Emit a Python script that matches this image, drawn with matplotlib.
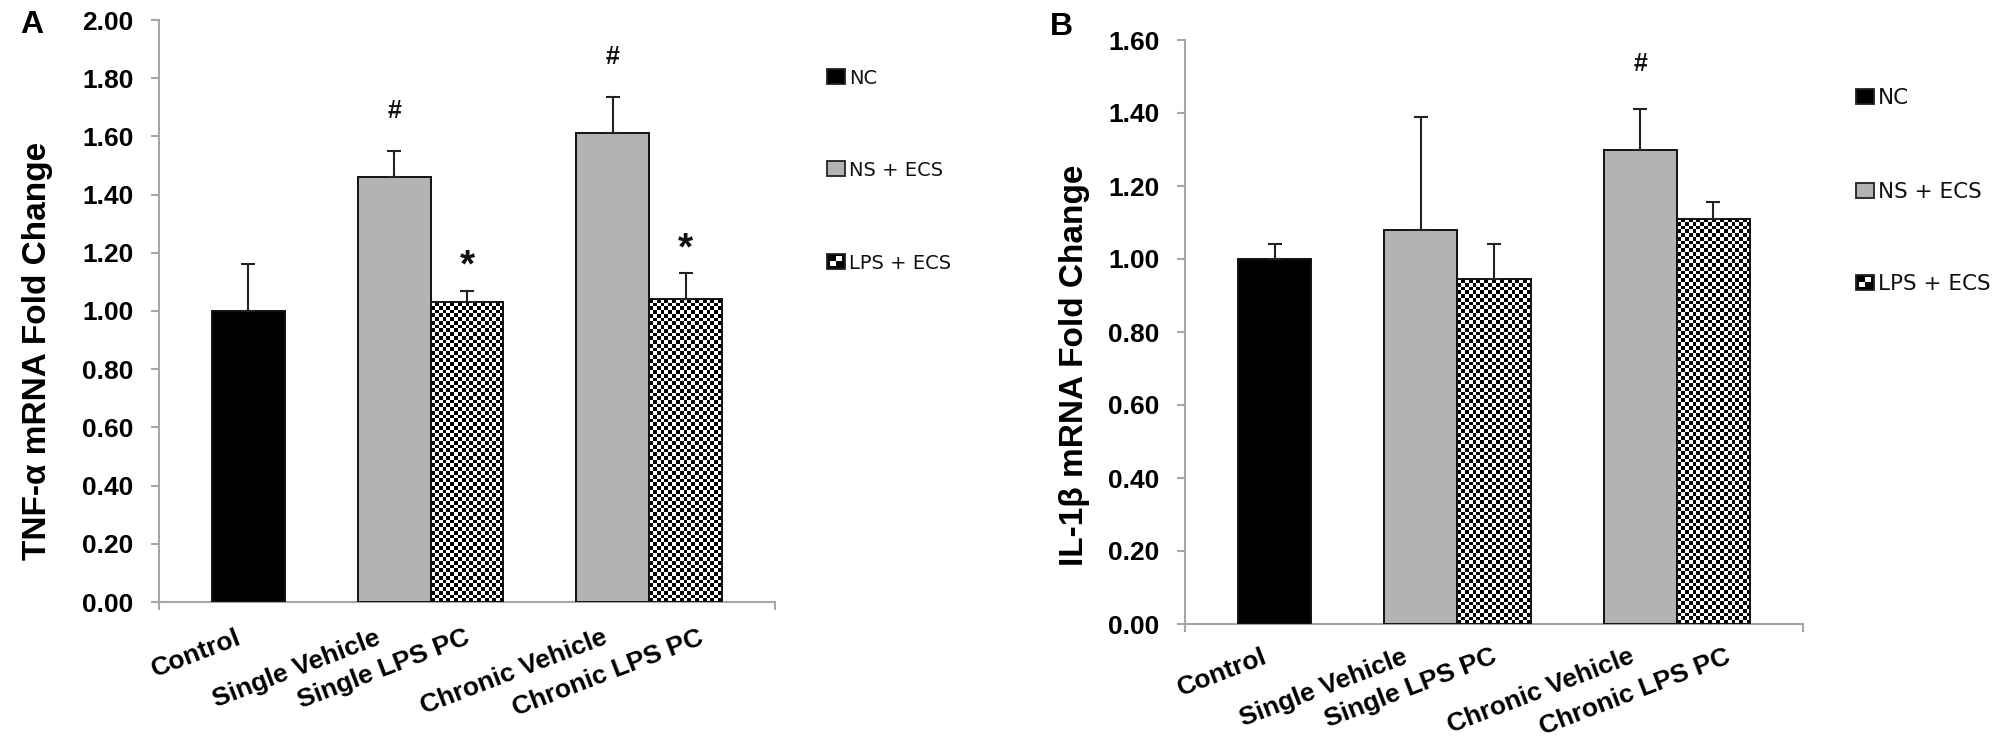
import numpy as np
import matplotlib
matplotlib.use("Agg")
import matplotlib.pyplot as plt
from matplotlib.patches import Rectangle
from matplotlib.ticker import FixedLocator
from matplotlib.transforms import ScaledTranslation

# ---------------- data ----------------
categories = ["Control", "Single Vehicle", "Single LPS PC", "Chronic Vehicle", "Chronic LPS PC"]
bar_series = [0, 1, 2, 1, 2]            # index into legend_labels
legend_labels = ["NC", "NS + ECS", "LPS + ECS"]

tnf_values = [1.00, 1.46, 1.03, 1.61, 1.04]
tnf_errors = [0.16, 0.09, 0.04, 0.125, 0.09]
tnf_marks = ["", "#", "*", "#", "*"]
tnf_yticks = [0.0, 0.2, 0.4, 0.6, 0.8, 1.0, 1.2, 1.4, 1.6, 1.8, 2.0]

il1b_values = [1.00, 1.08, 0.945, 1.30, 1.11]
il1b_errors = [0.04, 0.31, 0.095, 0.11, 0.045]
il1b_marks = ["", "", "", "#", ""]
il1b_yticks = [0.0, 0.2, 0.4, 0.6, 0.8, 1.0, 1.2, 1.4, 1.6]

# ---------------- style ----------------
W, H, DPI = 2000, 754, 100
BOLD = "Liberation Sans"
LEG_FONT = "DejaVu Sans"
GRAY_FILL = "#b3b3b3"
AXIS_GRAY = "#a6a6a6"
bar_pos = [0, 2, 3, 5, 6]
label_dx_px = [-12.5, -19, -3, -11, 12]
mark_style = {"#": (24, 18), "*": (9.9, 28)}   # offset (pt), fontsize

plt.rcParams["font.family"] = [BOLD, "DejaVu Sans"]

fig = plt.figure(figsize=(W / DPI, H / DPI), dpi=DPI)
fig.patch.set_facecolor("white")


def px_axes(left, right, y0, ytop):
    return fig.add_axes([left / W, (H - y0) / H, (right - left) / W, (y0 - ytop) / H])


def draw_checker(ax, bar, cell=3.75):
    x0, w, h = bar.get_x(), bar.get_width(), bar.get_height()
    p0 = ax.transData.transform((x0, 0))
    p1 = ax.transData.transform((x0 + w, h))
    nx = max(1, int(round((p1[0] - p0[0]) / cell)))
    ny = max(1, int(round((p1[1] - p0[1]) / cell)))
    pattern = np.add.outer(np.arange(ny), np.arange(nx)) % 2
    im = ax.imshow(pattern, cmap="gray", vmin=0, vmax=1, extent=(x0, x0 + w, 0, h),
                   aspect="auto", interpolation="nearest", origin="lower", zorder=2)
    im.set_clip_path(bar)


def panel(ax, values, errors, marks, yticks, ylabel, mark_extra, label_pad):
    xlim = (-0.5 - 0.726, 6.5 + 0.726)
    ylim = (yticks[0], yticks[-1])
    ax.set_xlim(xlim)
    ax.set_ylim(ylim)
    fills = ["black", GRAY_FILL, "none"]
    bars = []
    for x, v, s in zip(bar_pos, values, bar_series):
        b = ax.bar(x, v, width=1.0, color=fills[s], edgecolor="#111111",
                   linewidth=1.4, zorder=3)[0]
        bars.append(b)
    for b, s in zip(bars, bar_series):
        if s == 2:
            draw_checker(ax, b)
    ax.errorbar(bar_pos, values, yerr=[np.zeros(len(values)), errors], fmt="none",
                ecolor="#222222", elinewidth=1.5, capsize=4.7, capthick=1.5, zorder=4)
    for x, v, e, m in zip(bar_pos, values, errors, marks):
        if m:
            off, fs = mark_style[m]
            ax.annotate(m, (x, v + e), xytext=(0, off + (mark_extra if m == "#" else 0)),
                        textcoords="offset points", ha="center", va="baseline",
                        fontsize=fs, fontweight="bold", color="#111111")
    ax.set_xlim(xlim)
    ax.set_ylim(ylim)

    for s in ("top", "right"):
        ax.spines[s].set_visible(False)
    for s in ("left", "bottom"):
        ax.spines[s].set_color(AXIS_GRAY)
        ax.spines[s].set_linewidth(1.5)

    ax.set_yticks(yticks)
    ax.set_yticklabels([f"{t:.2f}" for t in yticks])
    ax.tick_params(axis="y", direction="out", length=5.5, width=1.5, color=AXIS_GRAY,
                   pad=13, labelsize=19)
    for lab in ax.get_yticklabels():
        lab.set_fontweight("bold")

    ax.set_xticks(bar_pos)
    ax.set_xticklabels(categories, rotation=21, ha="right", va="top",
                       rotation_mode="anchor", fontsize=19, fontweight="bold")
    ax.tick_params(axis="x", which="major", length=0, pad=label_pad)
    ax.xaxis.set_minor_locator(FixedLocator(list(xlim)))
    ax.tick_params(axis="x", which="minor", direction="out", length=5.8, width=1.5,
                   color=AXIS_GRAY)
    for lab, dx in zip(ax.get_xticklabels(), label_dx_px):
        lab.set_transform(lab.get_transform() + ScaledTranslation(dx / DPI, 0, fig.dpi_scale_trans))

    ax.set_ylabel(ylabel, fontsize=24, fontweight="bold")
    ax.yaxis.label.set_va("center")


def legend(x_sq, y_centers, fs):
    fills = ["black", GRAY_FILL, None]
    sq_w, sq_h = 18, 15
    for lab, yc, f in zip(legend_labels, y_centers, fills):
        x0 = x_sq / W
        y0 = (H - yc - sq_h / 2) / H
        w = sq_w / W
        h = sq_h / H
        if f is not None:
            fig.patches.append(Rectangle((x0, y0), w, h, transform=fig.transFigure,
                                         facecolor=f, edgecolor="#222222", linewidth=1.3))
        else:
            fig.patches.append(Rectangle((x0, y0), w, h, transform=fig.transFigure,
                                         facecolor="black", edgecolor="#222222", linewidth=1.3))
            for (i, j) in [(1, 1), (0, 0)]:
                fig.patches.append(Rectangle((x0 + w * (0.15 + 0.35 * i), y0 + h * (0.15 + 0.35 * j)),
                                             w * 0.35, h * 0.35, transform=fig.transFigure,
                                             facecolor="white", edgecolor="none"))
        fig.text((x_sq + sq_w + 4) / W, (H - yc - 2) / H, lab, fontsize=fs,
                 family=[LEG_FONT], ha="left", va="center", color="#111111")


axA = px_axes(159, 775, 602, 20)
panel(axA, tnf_values, tnf_errors, tnf_marks, tnf_yticks, "TNF-α mRNA Fold Change", 0, 17)
axA.yaxis.set_label_coords(-121 / 616, 0.431)

axB = px_axes(1185, 1803, 624, 40)
panel(axB, il1b_values, il1b_errors, il1b_marks, il1b_yticks, "IL-1β mRNA Fold Change", 3.5, 15)
axB.yaxis.set_label_coords(-110 / 618, 0.443)

fig.text(20 / W, (H - 10) / H, "A", fontsize=23, fontweight="bold", ha="left", va="top")
fig.text(1050 / W, (H - 12) / H, "B", fontsize=23, fontweight="bold", ha="left", va="top")

legend(827, [76, 168, 261], 14)
legend(1856, [96, 190, 282], 15.5)

fig.savefig("out.png", dpi=DPI, facecolor="white")
